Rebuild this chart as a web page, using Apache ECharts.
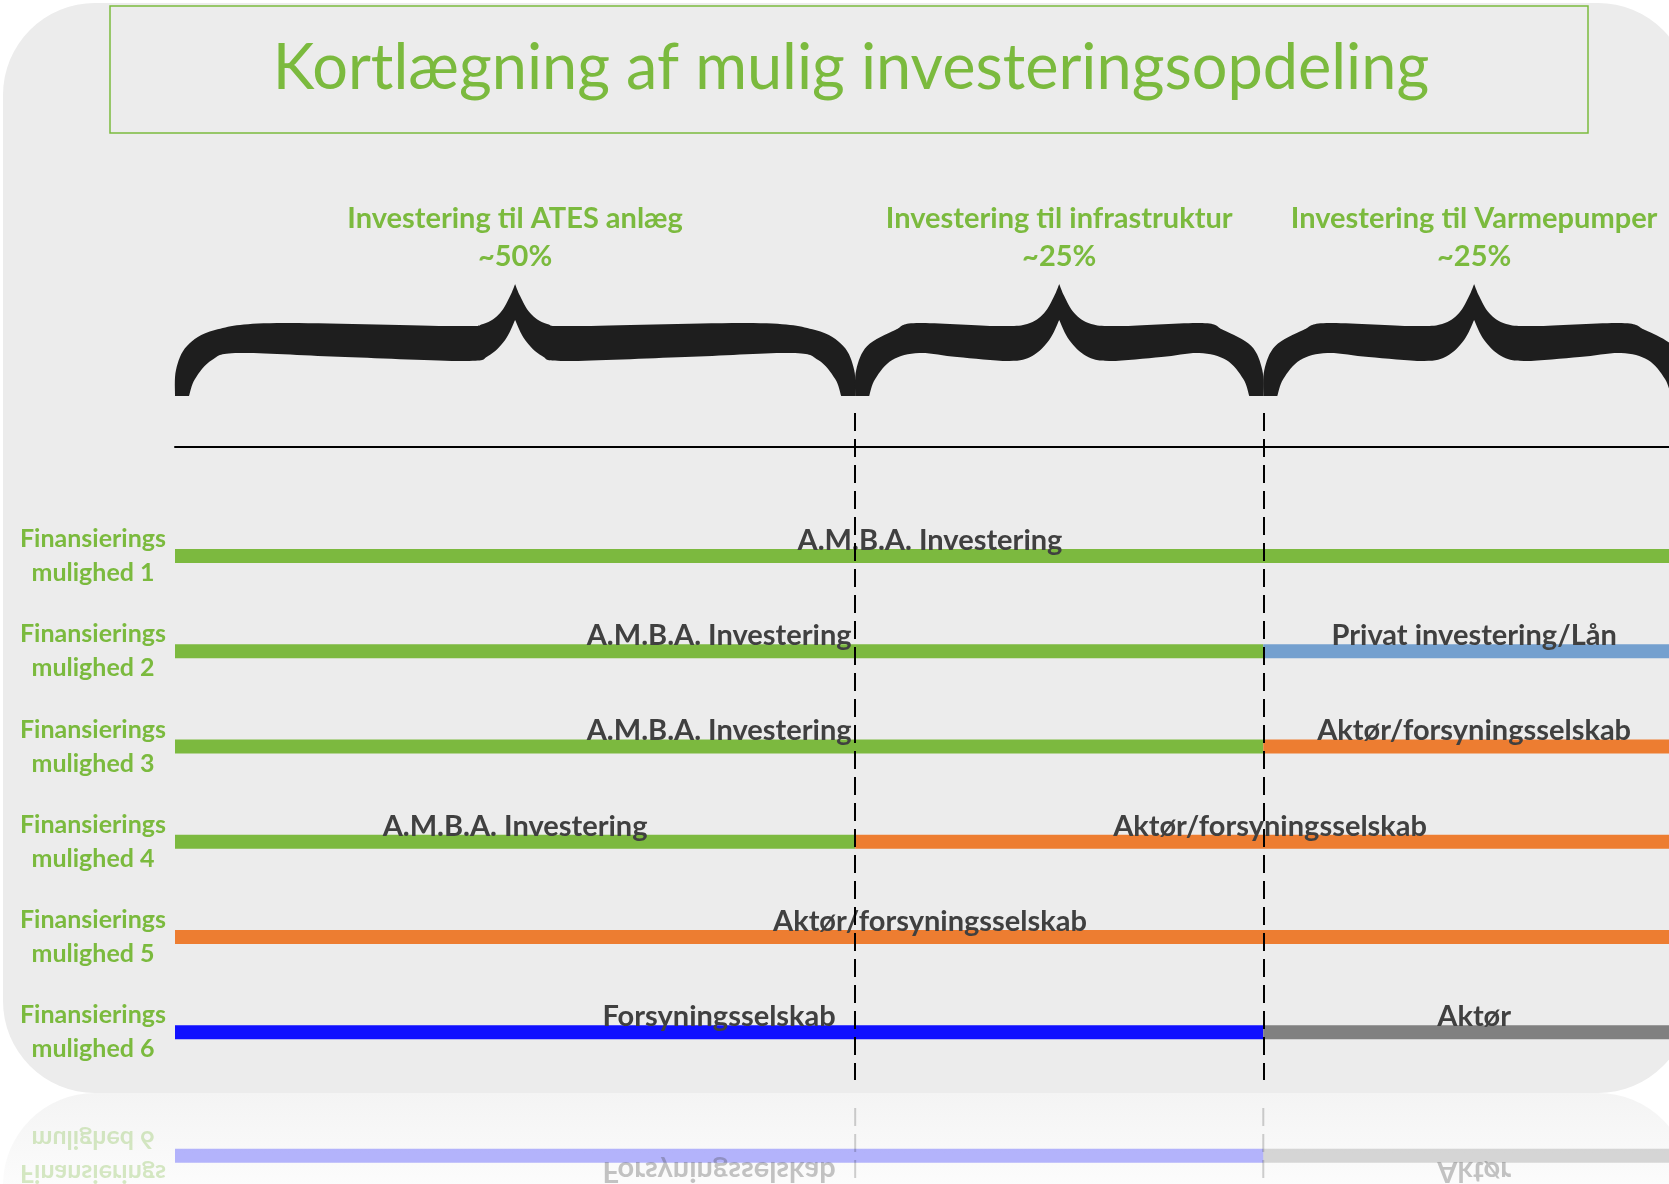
<!DOCTYPE html>
<html>
<head>
<meta charset="utf-8">
<title>Kortlægning af mulig investeringsopdeling</title>
<script src="https://cdn.jsdelivr.net/npm/echarts@6/dist/echarts.min.js"></script>
<style>
  html, body { margin: 0; padding: 0; background: #fff; }
  #chart { width: 1669px; height: 1184px; }
</style>
</head>
<body>
<div id="chart"></div>
<script>
// ---- data ----
const titleText = 'Kortlægning af mulig investeringsopdeling'
const sectionNames = ['Investering til ATES anlæg', 'Investering til infrastruktur', 'Investering til Varmepumper']
const sectionShares = ['~50%', '~25%', '~25%']
// position of the section borders on the x scale
const sectionEdges = [0, 50, 80, 111]
const rowNames = [
  'Finansierings\nmulighed 1',
  'Finansierings\nmulighed 2',
  'Finansierings\nmulighed 3',
  'Finansierings\nmulighed 4',
  'Finansierings\nmulighed 5',
  'Finansierings\nmulighed 6'
]
// one entry per coloured piece: row (1-6), first section, section after the last one, who pays
const segRow = [1, 2, 2, 3, 3, 4, 4, 5, 6, 6]
const segFrom = [0, 0, 2, 0, 2, 0, 1, 0, 0, 2]
const segTo = [3, 2, 3, 2, 3, 1, 3, 3, 2, 3]
const segLabel = [
  'A.M.B.A. Investering',
  'A.M.B.A. Investering', 'Privat investering/Lån',
  'A.M.B.A. Investering', 'Aktør/forsyningsselskab',
  'A.M.B.A. Investering', 'Aktør/forsyningsselskab',
  'Aktør/forsyningsselskab',
  'Forsyningsselskab', 'Aktør'
]

// ---- style ----
const GREEN = '#7bba3e'
const DARK = '#404040'
const funderColors = {
  'A.M.B.A. Investering': '#7cb93f',
  'Privat investering/Lån': '#74a0cf',
  'Aktør/forsyningsselskab': '#ed7d31',
  'Forsyningsselskab': '#1010ff',
  'Aktør': '#808080'
}
const FONT = 'Lato'
const barH = 14

const segData = segRow.map((r, i) => [sectionEdges[segFrom[i]], sectionEdges[segTo[i]], r, i])
const mirrorData = segData.filter(d => d[2] === rowNames.length)
const braceData = sectionNames.map((n, i) => [sectionEdges[i], sectionEdges[i + 1], i])

// catmull-rom through the points -> cubic bezier commands
function spline(pts) {
  let d = ''
  for (let i = 0; i < pts.length - 1; i++) {
    const p0 = pts[i - 1] || pts[i], p1 = pts[i], p2 = pts[i + 1], p3 = pts[i + 2] || p2
    const c1 = [p1[0] + (p2[0] - p0[0]) / 6, p1[1] + (p2[1] - p0[1]) / 6]
    const c2 = [p2[0] - (p3[0] - p1[0]) / 6, p2[1] - (p3[1] - p1[1]) / 6]
    d += ' C' + [c1, c2, p2].map(p => p[0].toFixed(1) + ' ' + p[1].toFixed(1)).join(' ')
  }
  return d
}

// curly brace lying on its side, ends at x0/x1, bottom at b
function bracePath(x0, x1, b) {
  const hw = (x1 - x0) / 2, xm = (x0 + x1) / 2
  const half = s => {
    const end = s > 0 ? x0 : x1
    const X = d => end + s * d
    const C = d => xm - s * d
    return {
      outer: [[X(0), b], [X(1), b - 26], [X(12), b - 50], [X(40), b - 66], [X(0.3 * hw), b - 73],
        [C(62), b - 70], [C(32), b - 72], [C(15), b - 83], [C(5), b - 100], [C(0), b - 112]],
      inner: [[X(14), b], [X(20), b - 17], [X(37), b - 36], [X(64), b - 43], [X(0.5 * hw), b - 39],
        [C(50), b - 35], [C(27), b - 40], [C(10), b - 56], [C(0), b - 76]]
    }
  }
  const L = half(1), R = half(-1)
  const rOuter = R.outer.slice().reverse()
  const lInner = L.inner.slice().reverse()
  return 'M' + L.outer[0].join(' ') + spline(L.outer) + spline(rOuter) +
    ' L' + R.inner[0].join(' ') + spline(R.inner) + spline(lInner) + ' Z'
}

function segmentShapes(api, alpha) {
  const label = segLabel[api.value(3)]
  const p0 = api.coord([api.value(0), api.value(2)])
  const p1 = api.coord([api.value(1), api.value(2)])
  return [
    {
      type: 'rect',
      shape: { x: p0[0], y: p0[1] - barH / 2, width: p1[0] - p0[0], height: barH },
      style: { fill: funderColors[label], opacity: alpha }
    },
    {
      type: 'text',
      x: (p0[0] + p1[0]) / 2,
      y: p0[1] - barH / 2 + 6,
      z2: 5,
      style: {
        text: label, fill: DARK, opacity: alpha,
        font: 'bold 29px ' + FONT, align: 'center', verticalAlign: 'bottom'
      }
    }
  ]
}

const chart = echarts.init(document.getElementById('chart'))
const option = {
  backgroundColor: '#fff',
  animation: false,
  title: {
    text: titleText,
    left: 851,
    top: 29,
    textAlign: 'center',
    padding: 0,
    textStyle: { color: GREEN, fontFamily: FONT, fontWeight: 'normal', fontSize: 63, lineHeight: 80 }
  },
  graphic: [
    { type: 'rect', z: -10, shape: { x: 3, y: 3, width: 1687, height: 1090, r: 92 }, style: { fill: '#ececec' } },
    {
      type: 'rect', z: -10, shape: { x: 3, y: 1093, width: 1687, height: 120, r: [92, 92, 0, 0] },
      style: {
        fill: new echarts.graphic.LinearGradient(0, 0, 0, 1, [
          { offset: 0, color: '#f4f4f4' },
          { offset: 1, color: '#fefefe' }
        ])
      }
    },
    { type: 'rect', z: -5, shape: { x: 110, y: 6, width: 1478, height: 127 }, style: { fill: 'none', stroke: GREEN, lineWidth: 1.5 } }
  ],
  // the picture is cut off on the right, so the grid runs past the canvas edge
  grid: { left: 175, top: 413, width: 1510, bottom: 104, outerBoundsMode: 'none', containLabel: false },
  xAxis: {
    type: 'value',
    min: sectionEdges[0],
    max: sectionEdges[sectionEdges.length - 1],
    position: 'top',
    offset: -34,
    axisLine: { show: true, onZero: false, lineStyle: { color: '#000', width: 2 } },
    axisTick: { show: false },
    axisLabel: { show: false },
    splitLine: { show: false }
  },
  yAxis: {
    type: 'category',
    inverse: true,
    data: [''].concat(rowNames),
    axisLine: { show: false },
    axisTick: { show: false },
    splitLine: { show: false },
    axisLabel: {
      interval: 0, margin: 82, align: 'center',
      color: GREEN, fontFamily: FONT, fontWeight: 'bold', fontSize: 25, lineHeight: 34
    }
  },
  series: [
    {
      type: 'custom',
      name: 'afsnit',
      clip: false,
      z: 2,
      data: braceData,
      renderItem: (params, api) => {
        const a = api.coord([api.value(0), 0])
        const b = api.coord([api.value(1), 0])
        const top = a[1] - api.size([0, 1])[1] / 2
        const base = top - 17
        const i = api.value(2)
        return {
          type: 'group',
          children: [
            { type: 'path', shape: { pathData: bracePath(a[0], b[0], base) }, style: { fill: '#1e1e1e' } },
            {
              type: 'text', x: (a[0] + b[0]) / 2, y: base - 158,
              style: {
                text: sectionNames[i] + '\n' + sectionShares[i], fill: GREEN,
                font: 'bold 29px ' + FONT, lineHeight: 38, align: 'center', verticalAlign: 'middle'
              }
            }
          ]
        }
      },
      markLine: {
        silent: true,
        symbol: ['none', 'none'],
        label: { show: false },
        lineStyle: { color: '#000', width: 2, type: [18, 8] },
        data: sectionEdges.slice(1, -1).map(v => ({ xAxis: v }))
      }
    },
    {
      type: 'custom',
      name: 'finansiering',
      clip: false,
      z: 3,
      data: segData,
      renderItem: (params, api) => ({ type: 'group', children: segmentShapes(api, 1) })
    },
    {
      // mirror image of the last row below the panel
      type: 'custom',
      name: 'spejling',
      clip: false,
      z: 3,
      data: mirrorData,
      renderItem: (params, api) => {
        const alpha = 0.3
        const children = segmentShapes(api, alpha)
        const p = api.coord([0, api.value(2)])
        const band = api.size([0, 1])[1]
        const bottom = p[1] + band / 2
        if (params.dataIndex === 0) {
          children.push({
            type: 'text', x: p[0] - 82, y: p[1],
            style: {
              text: rowNames[rowNames.length - 1], fill: GREEN, opacity: alpha,
              font: 'bold 25px ' + FONT, lineHeight: 34, align: 'center', verticalAlign: 'middle'
            }
          })
          sectionEdges.slice(1, -1).forEach(v => {
            const x = api.coord([v, 0])[0]
            children.push({
              type: 'line', shape: { x1: x, y1: bottom, x2: x, y2: bottom - 100 },
              style: { stroke: '#000', lineWidth: 2, lineDash: [18, 8], opacity: alpha * 0.6 }
            })
          })
        }
        return { type: 'group', originX: 0, originY: bottom + 14, scaleY: -1, children }
      }
    }
  ]
}
chart.setOption(option)
window.addEventListener('resize', chart.resize)
</script>
</body>
</html>
